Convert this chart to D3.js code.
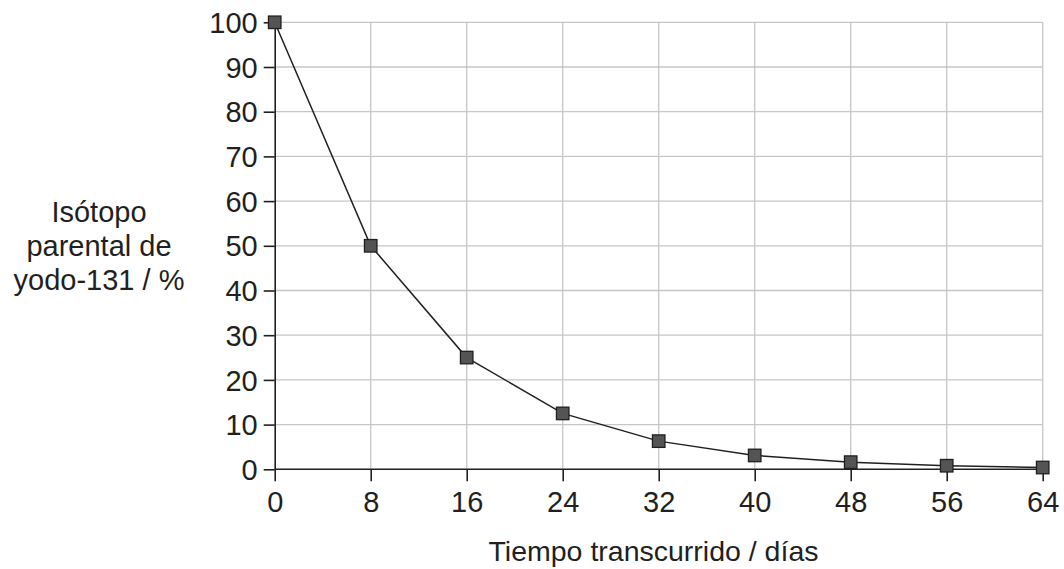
<!DOCTYPE html>
<html>
<head>
<meta charset="utf-8">
<script src="https://cdn.jsdelivr.net/npm/d3@7/dist/d3.min.js"></script>
<style>
  html, body { margin: 0; padding: 0; background: #fff; }
  svg { display: block; font-family: "Liberation Sans", Arial, Helvetica, sans-serif; }
</style>
</head>
<body>
<svg id="chart" width="1064" height="569"></svg>
<script>
const days = [0, 8, 16, 24, 32, 40, 48, 56, 64];
const percent = [100, 50, 25, 12.5, 6.3, 3.1, 1.6, 0.8, 0.4];
const xTicks = [0, 8, 16, 24, 32, 40, 48, 56, 64];
const yTicks = [0, 10, 20, 30, 40, 50, 60, 70, 80, 90, 100];
const xTitle = "Tiempo transcurrido / días";
const yTitleLines = ["Isótopo", "parental de", "yodo-131 / %"];

(function () {
const svg = d3.select("#chart");
const pLeft = 274.7, pRight = 1042.7, pTop = 22.3, pBottom = 469.3;

const x = d3.scaleLinear().domain([0, 64]).range([pLeft, pRight]);
const y = d3.scaleLinear().domain([0, 100]).range([pBottom, pTop]);

// grid
svg.append("g").selectAll("line").data(xTicks.filter(d => d > 0)).join("line")
  .attr("x1", d => x(d)).attr("x2", d => x(d))
  .attr("y1", y(100)).attr("y2", y(0))
  .attr("stroke", "#c6c6c6").attr("stroke-width", 1.3);
svg.append("g").selectAll("line").data(yTicks.filter(d => d > 0)).join("line")
  .attr("x1", x(0)).attr("x2", x(64))
  .attr("y1", d => y(d)).attr("y2", d => y(d))
  .attr("stroke", "#c6c6c6").attr("stroke-width", 1.3);

// axes
const xAxis = d3.axisBottom(x).tickValues(xTicks).tickSize(12).tickSizeOuter(0).tickPadding(10);
const yAxis = d3.axisLeft(y).tickValues(yTicks).tickSize(11).tickSizeOuter(0).tickPadding(6);

const gx = svg.append("g").attr("transform", `translate(0,${pBottom})`).call(xAxis);
const gy = svg.append("g").attr("transform", `translate(${pLeft},0)`).call(yAxis);
[gx, gy].forEach(g => {
  g.select(".domain").attr("stroke", "#231f20").attr("stroke-width", 1.6);
  g.selectAll(".tick line").attr("stroke", "#231f20").attr("stroke-width", 1.6);
  g.selectAll(".tick text").attr("fill", "#231f20")
    .style("font-size", "29px").style("font-family", "'Liberation Sans', Arial, sans-serif");
});
gx.select(".domain").attr("d", `M${pLeft},0H${pRight}`);
gx.selectAll(".tick text").attr("dy", "0.71em");
gy.selectAll(".tick text").attr("dy", "0.35em");

// line
const line = d3.line().x((d, i) => x(days[i])).y(d => y(d));
svg.append("path").datum(percent).attr("d", line)
  .attr("fill", "none").attr("stroke", "#231f20").attr("stroke-width", 1.5);

// markers
const s = 12.5;
svg.append("g").selectAll("rect").data(percent).join("rect")
  .attr("x", (d, i) => x(days[i]) - s / 2)
  .attr("y", d => y(d) - s / 2)
  .attr("width", s).attr("height", s)
  .attr("fill", "#545456").attr("stroke", "#231f20").attr("stroke-width", 1.3);

// titles
svg.append("text").attr("x", 653.5).attr("y", 561).attr("text-anchor", "middle")
  .attr("fill", "#231f20").style("font-size", "28.5px").text(xTitle);

svg.append("g").selectAll("text").data(yTitleLines).join("text")
  .attr("x", 99).attr("y", (d, i) => 222 + i * 34).attr("text-anchor", "middle")
  .attr("fill", "#231f20").style("font-size", "29px").text(d => d);
})();
</script>
</body>
</html>
